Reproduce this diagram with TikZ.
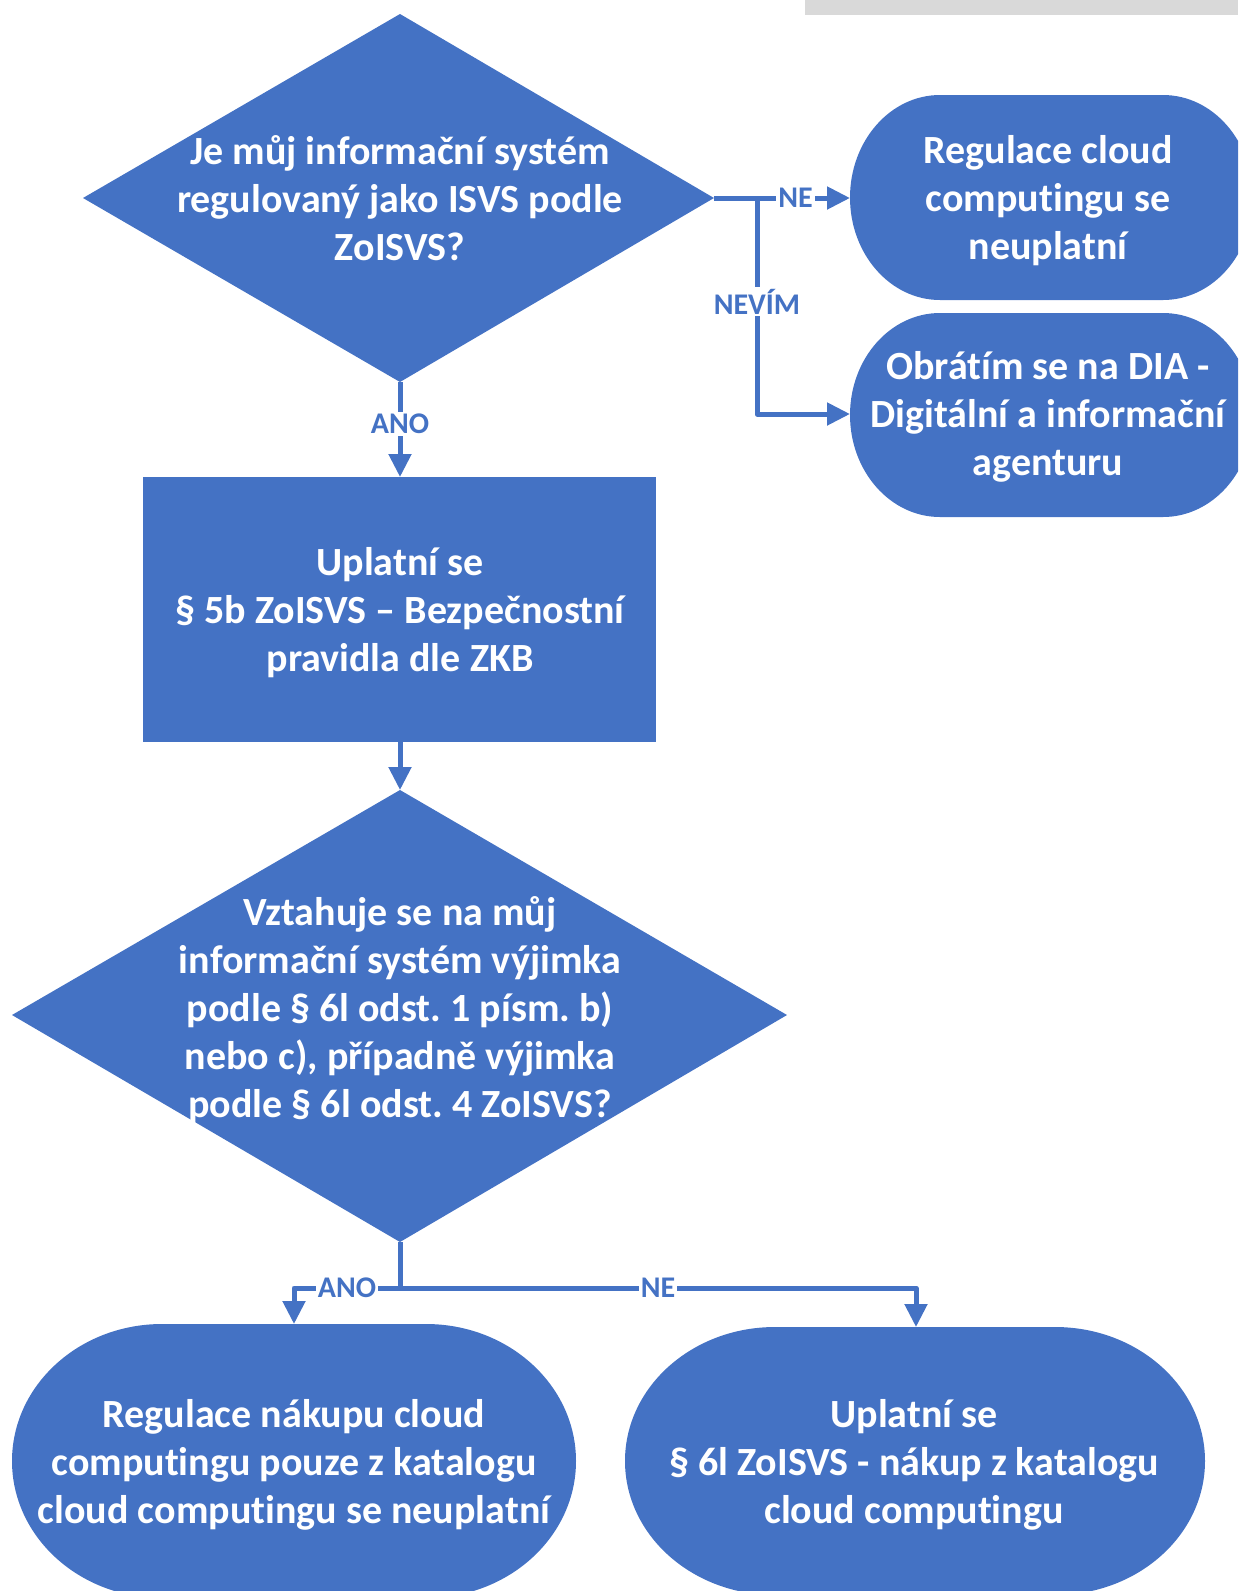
\documentclass[tikz,border=0pt]{standalone}
\usepackage{fontspec}
\setmainfont{Carlito}[Ligatures={NoCommon}]
\usetikzlibrary{arrows.meta}
\definecolor{cblue}{HTML}{4472C4}
\definecolor{cgrey}{HTML}{D9D9D9}
\begin{document}
\frenchspacing
\begin{tikzpicture}[x=0.5pt,y=-0.5pt,
  shapefill/.style={fill=cblue},
  txt/.style={text=white, font=\frenchspacing\bfseries\fontsize{20}{24}\selectfont, align=center, inner sep=0pt},
  conn/.style={draw=cblue, line width=2.5pt, line join=round, -{Triangle[length=11.5pt,width=11pt]}},
  lbl/.style={fill=white, text=cblue, font=\bfseries\fontsize{15}{16}\selectfont, inner sep=1pt}]
\useasboundingbox (0,0) rectangle (1238,1591);
\clip (0,0) rectangle (1238,1591);

% grey bar
\fill[cgrey] (805,0) rectangle (1238,15);

% anchors
\coordinate (d1t) at (400,14);
\coordinate (d1r) at (714,198);
\coordinate (d1b) at (400,382);
\coordinate (d1l) at (83,198);
\coordinate (rt) at (400,477);
\coordinate (rb) at (400,742);
\coordinate (d2t) at (400,790);
\coordinate (d2r) at (787,1015);
\coordinate (d2b) at (400,1242);
\coordinate (d2l) at (12,1015);
\coordinate (t1w) at (850,198);
\coordinate (t2w) at (850,414);
\coordinate (b1n) at (294,1324);
\coordinate (b2n) at (916,1327);
\coordinate (j1) at (757,198);
\coordinate (j2) at (400,1288);

% shapes
\fill[shapefill] (d1t) -- (d1r) -- (d1b) -- (d1l) -- cycle;
\fill[shapefill] (143,477) rectangle (656,742);
\fill[shapefill] (d2t) -- (d2r) -- (d2b) -- (d2l) -- cycle;
\fill[shapefill] (940,95) -- (1163,95) arc[start angle=-90,end angle=90,x radius=90,y radius=102.5]
  -- (940,300) arc[start angle=90,end angle=270,x radius=90,y radius=102.5] -- cycle;
\fill[shapefill] (940,313) -- (1163,313) arc[start angle=-90,end angle=90,x radius=90,y radius=102]
  -- (940,517) arc[start angle=90,end angle=270,x radius=90,y radius=102] -- cycle;
\fill[shapefill] (162,1324) -- (426,1324) arc[start angle=-90,end angle=90,x radius=150,y radius=137]
  -- (162,1598) arc[start angle=90,end angle=270,x radius=150,y radius=137] -- cycle;
\fill[shapefill] (775,1327) -- (1055,1327) arc[start angle=-90,end angle=90,x radius=150,y radius=134]
  -- (775,1595) arc[start angle=90,end angle=270,x radius=150,y radius=134] -- cycle;

% texts
\node[txt] (q1) at (400,198) {Je můj informační systém\\regulovaný jako ISVS podle\\ZoISVS?};
\node[txt] (r1) at (1048,201) {Regulace cloud\\computingu se\\neuplatní};
\node[txt] (r2) at (1048,417) {Obrátím se na DIA -\\Digitální a informační\\agenturu};
\node[txt] (p1) at (400,613) {Uplatní se\\§ 5b ZoISVS – Bezpečnostní\\pravidla dle ZKB};
\node[txt] (q2) at (400,1010) {Vztahuje se na můj\\informační systém výjimka\\podle § 6l odst. 1 písm. b)\\nebo c), případně výjimka\\podle § 6l odst. 4 ZoISVS?};
\node[txt] (e1) at (294,1465) {Regulace nákupu cloud\\computingu pouze z katalogu\\cloud computingu se neuplatní};
\node[txt] (e2) at (914,1465) {Uplatní se\\§ 6l ZoISVS - nákup z katalogu\\cloud computingu};

% connectors
\draw[conn] (d1r) -- node[lbl, pos=0.6] {NE} (t1w);
\draw[conn] (j1) -- node[lbl, pos=0.48] {NEVÍM} (j1 |- t2w) -- (t2w);
\draw[conn] (d1b) -- node[lbl, pos=0.44] {ANO} (rt);
\draw[conn] (rb) -- (d2t);
\draw[conn] (d2b) -- (j2) -- node[lbl, pos=0.5] {ANO} (b1n |- j2) -- (b1n);
\draw[conn] (j2) -- node[lbl, pos=0.5] {NE} (b2n |- j2) -- (b2n);
\end{tikzpicture}
\end{document}
